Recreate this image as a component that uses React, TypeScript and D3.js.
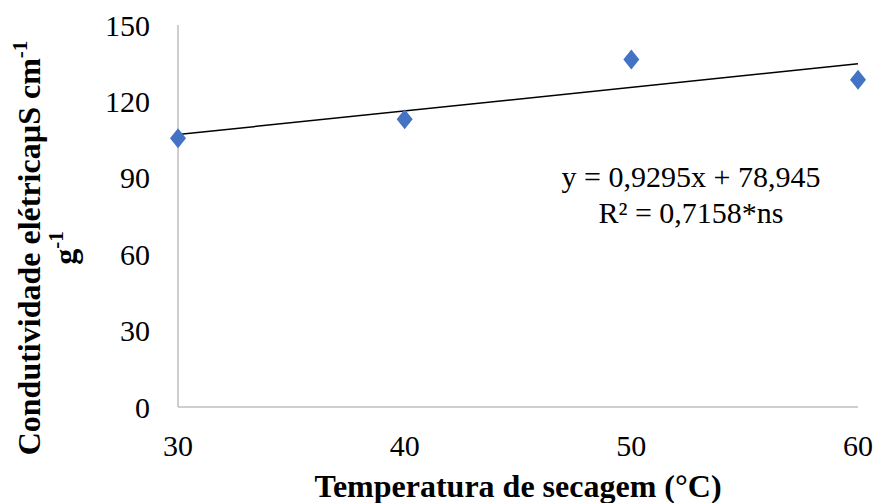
import React from "react";
import * as d3 from "d3";

const temperatures = [30, 40, 50, 60];
const conductivity = [105.5, 113, 136.5, 128.5];
const yTicks = [0, 30, 60, 90, 120, 150];
const xTicks = [30, 40, 50, 60];
const equationLines = ["y = 0,9295x + 78,945", "R² = 0,7158*ns"];

const W = 876;
const H = 503;
const M = { left: 178, right: 858, top: 25, bottom: 407 };

export default function App() {
  const x = d3.scaleLinear().domain([30, 60]).range([M.left, M.right]);
  const y = d3.scaleLinear().domain([0, 150]).range([M.bottom, M.top]);

  const n = temperatures.length;
  const mx = d3.mean(temperatures) as number;
  const my = d3.mean(conductivity) as number;
  let sxy = 0, sxx = 0;
  for (let i = 0; i < n; i++) {
    sxy += (temperatures[i] - mx) * (conductivity[i] - my);
    sxx += (temperatures[i] - mx) ** 2;
  }
  const slope = sxy / sxx;
  const intercept = my - slope * mx;
  const line = d3.line<number>().x((d) => x(d)).y((d) => y(slope * d + intercept));

  const diamond = (cx: number, cy: number) =>
    `M${cx},${cy - 10}L${cx + 8},${cy}L${cx},${cy + 10}L${cx - 8},${cy}Z`;

  const font = "'Liberation Serif', 'Times New Roman', serif";

  return (
    <svg
      width={W}
      height={H}
      style={{ position: "absolute", left: 0, top: 0, background: "#fff" }}
      fontFamily={font}
    >
      <line x1={M.left} x2={M.left} y1={M.top} y2={M.bottom} stroke="#bfbfbf" strokeWidth={1.5} />
      <line x1={M.left} x2={M.right} y1={M.bottom} y2={M.bottom} stroke="#bfbfbf" strokeWidth={1.5} />

      {yTicks.map((t) => (
        <text key={t} x={150} y={y(t)} dy="0.35em" textAnchor="end" fontSize={30} fill="#000">
          {t}
        </text>
      ))}
      {xTicks.map((t) => (
        <text key={t} x={x(t)} y={456} textAnchor="middle" fontSize={30} fill="#000">
          {t}
        </text>
      ))}

      <path d={line([30, 60]) as string} stroke="#000" strokeWidth={1.5} fill="none" />

      {temperatures.map((t, i) => (
        <path key={t} d={diamond(x(t), y(conductivity[i]))} fill="#4472C4" />
      ))}

      <text x={691} y={187} textAnchor="middle" fontSize={30} fill="#000">
        {equationLines[0]}
      </text>
      <text x={691} y={223} textAnchor="middle" fontSize={30} fill="#000">
        {equationLines[1]}
      </text>

      <text x={518} y={497} textAnchor="middle" fontSize={32} fontWeight="bold" fill="#000">
        Temperatura de secagem (°C)
      </text>

      <g transform="translate(0,248) rotate(-90)">
        <text x={0} y={40} textAnchor="middle" fontSize={32} fontWeight="bold" fill="#000">
          Condutividade elétricaµS cm
          <tspan fontSize={21} dy={-13}>-1</tspan>
        </text>
        <text x={0} y={76} textAnchor="middle" fontSize={32} fontWeight="bold" fill="#000">
          g<tspan fontSize={21} dy={-13}>-1</tspan>
        </text>
      </g>
    </svg>
  );
}
